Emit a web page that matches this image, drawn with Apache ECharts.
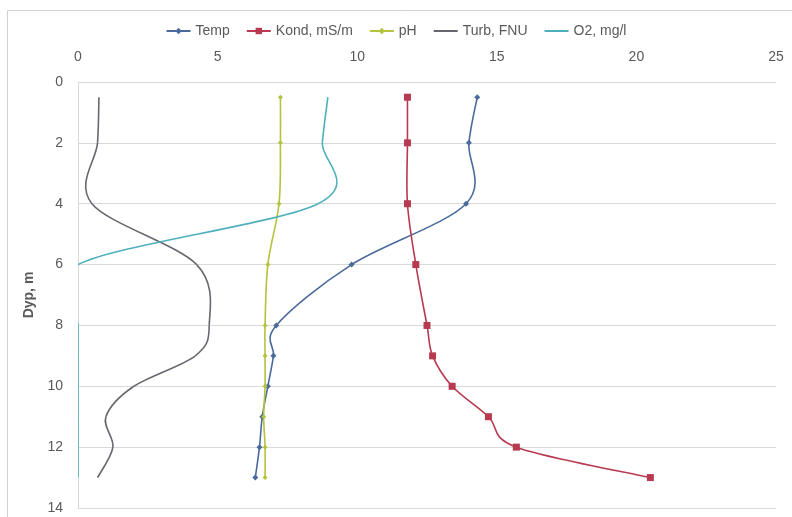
<!DOCTYPE html>
<html>
<head>
<meta charset="utf-8">
<script src="https://cdn.jsdelivr.net/npm/echarts@6/dist/echarts.min.js"></script>
<style>
html,body{margin:0;padding:0;background:#fff;}
#chart{width:792px;height:517px;}
</style>
</head>
<body>
<div id="chart"></div>
<script>
const depths = [0.5, 2, 4, 6, 8, 9, 10, 11, 12, 13];
const temp   = [14.3, 14.0, 13.9, 9.8, 7.1, 7.0, 6.8, 6.6, 6.5, 6.35];
const kond   = [11.8, 11.8, 11.8, 12.1, 12.5, 12.7, 13.4, 14.7, 15.7, 20.5];
const ph     = [7.25, 7.25, 7.2, 6.8, 6.7, 6.7, 6.7, 6.65, 6.7, 6.7];
const turb   = [0.75, 0.7, 0.5, 4.25, 4.7, 4.2, 2.0, 1.0, 1.25, 0.7];
const o2     = [8.95, 8.75, 8.6, 0, 0, 0, 0, 0, 0, 0];
const seriesNames = ['Temp', 'Kond, mS/m', 'pH', 'Turb, FNU', 'O2, mg/l'];
const colors = ['#4a6a9c', '#b83a50', '#b5c23c', '#6a6670', '#4fb0bd'];
const hasMarker = [true, true, true, false, false];

function pairs(vals){ return vals.map((v,i)=>[v, depths[i]]); }

// Excel-style smoothed line (Catmull-Rom -> cubic Bezier) drawn through the axes' scales
function curveSeries(name, vals, color){
  const pts = pairs(vals);
  return {
    name: name, type: 'custom', clip: true, z: 2,
    data: pts, encode: {x: 0, y: 1},
    renderItem: function(params, api){
      const i = params.dataIndex;
      const n = pts.length;
      if (i >= n - 1) return null;
      const P = k => api.coord(pts[Math.max(0, Math.min(n - 1, k))]);
      const p0 = P(i - 1), p1 = P(i), p2 = P(i + 1), p3 = P(i + 2);
      return {
        type: 'bezierCurve',
        shape: {
          x1: p1[0], y1: p1[1], x2: p2[0], y2: p2[1],
          cpx1: p1[0] + (p2[0] - p0[0]) / 6, cpy1: p1[1] + (p2[1] - p0[1]) / 6,
          cpx2: p2[0] - (p3[0] - p1[0]) / 6, cpy2: p2[1] - (p3[1] - p1[1]) / 6
        },
        style: {stroke: color, lineWidth: 1.6, fill: null}
      };
    }
  };
}

function markerSeries(name, vals, color, symbol, size){
  return {
    name: name, type: 'line', data: pairs(vals), z: 3,
    color: color, symbol: symbol, symbolSize: size, showSymbol: symbol !== 'none',
    lineStyle: {width: 1.6, opacity: 0}
  };
}

const chart = echarts.init(document.getElementById('chart'));
chart.setOption({
  animation: false,
  textStyle: {fontFamily: 'Liberation Sans, Arial, sans-serif'},
  graphic: [{
    type: 'rect', silent: true, z: -1,
    shape: {x: 7.5, y: 10.5, width: 820, height: 540},
    style: {fill: 'none', stroke: '#d0d0d0', lineWidth: 1}
  }],
  legend: {
    top: 19, left: 'center',
    itemWidth: 24, itemHeight: 8, itemGap: 16,
    textStyle: {color: '#595959', fontSize: 14},
    lineStyle: {opacity: 1},
    data: seriesNames.map((nm, k) => hasMarker[k] ? {name: nm} : {name: nm, itemStyle: {opacity: 0}})
  },
  grid: {left: 78, right: 16, top: 82, bottom: 9},
  xAxis: {
    type: 'value', position: 'top', min: 0, max: 25, interval: 5,
    axisLine: {show: false}, axisTick: {show: false},
    splitLine: {show: false},
    axisLabel: {color: '#595959', fontSize: 14, margin: 18}
  },
  yAxis: {
    type: 'value', inverse: true, min: 0, max: 14, interval: 2,
    name: 'Dyp, m', nameLocation: 'middle', nameRotate: 90, nameGap: 40,
    nameTextStyle: {color: '#595959', fontSize: 14, fontWeight: 'bold'},
    axisLine: {show: true, lineStyle: {color: '#d9d9d9'}},
    axisTick: {show: false},
    splitLine: {show: true, lineStyle: {color: '#d9d9d9', width: 1}},
    axisLabel: {color: '#595959', fontSize: 14, margin: 15}
  },
  series: [
    markerSeries(seriesNames[0], temp, colors[0], 'diamond', 6),
    markerSeries(seriesNames[1], kond, colors[1], 'rect', 7),
    markerSeries(seriesNames[2], ph, colors[2], 'diamond', 5),
    markerSeries(seriesNames[3], turb, colors[3], 'none', 0),
    markerSeries(seriesNames[4], o2, colors[4], 'none', 0),
    curveSeries(seriesNames[0], temp, colors[0]),
    curveSeries(seriesNames[1], kond, colors[1]),
    curveSeries(seriesNames[2], ph, colors[2]),
    curveSeries(seriesNames[3], turb, colors[3]),
    curveSeries(seriesNames[4], o2, colors[4])
  ]
});
</script>
</body>
</html>
